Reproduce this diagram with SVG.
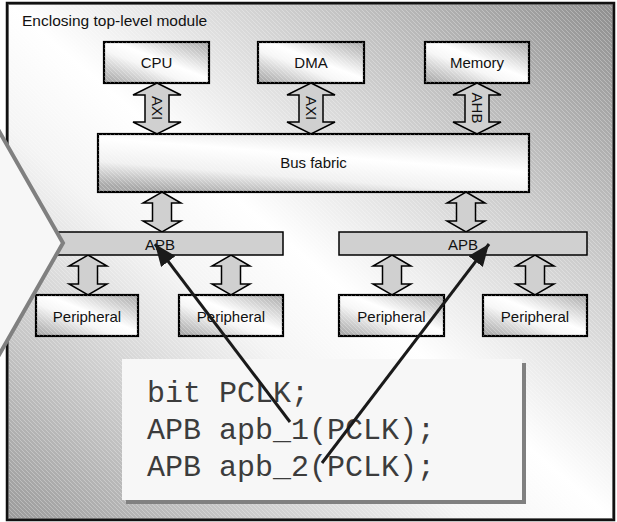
<svg xmlns="http://www.w3.org/2000/svg" width="617" height="522" viewBox="0 0 617 522">
  <defs>
    <linearGradient id="frameGrad" x1="1" y1="0" x2="0" y2="1">
      <stop offset="0" stop-color="#8e8e8e"/>
      <stop offset="0.5" stop-color="#ffffff"/>
      <stop offset="0.62" stop-color="#f4f4f4"/>
      <stop offset="1" stop-color="#9a9a9a"/>
    </linearGradient>
    <linearGradient id="boxGrad" x1="1" y1="0" x2="0" y2="1">
      <stop offset="0" stop-color="#a8a8a8"/>
      <stop offset="0.45" stop-color="#ffffff"/>
      <stop offset="0.6" stop-color="#f6f6f6"/>
      <stop offset="1" stop-color="#a0a0a0"/>
    </linearGradient>
    <linearGradient id="busGrad" x1="0.8" y1="0" x2="0.2" y2="1">
      <stop offset="0" stop-color="#d8d8d8"/>
      <stop offset="0.4" stop-color="#ffffff"/>
      <stop offset="0.7" stop-color="#f0f0f0"/>
      <stop offset="1" stop-color="#a8a8a8"/>
    </linearGradient>
    <pattern id="hatch" patternUnits="userSpaceOnUse" width="4" height="4">
      <path d="M-1,-1 L5,5 M3,-1 L5,1 M-1,3 L1,5" stroke="#ffffff" stroke-width="0.8" stroke-opacity="0.35"/>
    </pattern>
    <path id="dblL" d="M0,0 L24,12 L12,12 L12,39 L24,39 L0,51 L-24,39 L-12,39 L-12,12 L-24,12 Z"/>
    <path id="dblS" d="M0,0 L19,11 L9.5,11 L9.5,29 L19,29 L0,40 L-19,29 L-9.5,29 L-9.5,11 L-19,11 Z"/>
    <marker id="ah" markerUnits="userSpaceOnUse" markerWidth="24" markerHeight="20" refX="22" refY="9" orient="auto">
      <path d="M0,0 L22,9 L0,18 Z" fill="#1a1a1a"/>
    </marker>
    <style>
      .box { fill: url(#boxGrad); stroke: #000; stroke-width: 2.2; }
      .hat { fill: url(#hatch); stroke: none; }
      .bar { fill: #d0d0d0; stroke: #000; stroke-width: 1.5; }
      .dbl { fill: #d0d0d0; stroke: #000; stroke-width: 1.5; stroke-linejoin: miter; }
      .lbl { font-family: "Liberation Sans", Arial, sans-serif; font-size: 15px; fill: #111; text-anchor: middle; }
      .code { font-family: "Liberation Mono", "Courier New", monospace; font-size: 30px; fill: #3c3c3c; }
      .ptr { stroke: #1a1a1a; stroke-width: 3; fill: none; marker-end: url(#ah); }
    </style>
  </defs>

  <g id="frame">
    <rect x="7" y="3" width="607" height="517" fill="url(#frameGrad)"/>
    <rect x="7" y="3" width="607" height="517" class="hat"/>
    <rect x="8.5" y="4.5" width="604" height="514" fill="none" stroke="#888" stroke-width="1"/>
    <rect x="7" y="3" width="607" height="517" fill="none" stroke="#111" stroke-width="2.5"/>
    <text x="22" y="26" font-family="Liberation Sans, Arial, sans-serif" font-size="15.5" fill="#111">Enclosing top-level module</text>
  </g>

  <g id="cpu">
    <rect x="104" y="42" width="105" height="41" class="box"/>
    <rect x="104" y="42" width="105" height="41" class="hat"/>
    <text x="156.5" y="68" class="lbl">CPU</text>
  </g>
  <g id="dma">
    <rect x="258" y="42" width="106" height="41" class="box"/>
    <rect x="258" y="42" width="106" height="41" class="hat"/>
    <text x="311" y="68" class="lbl">DMA</text>
  </g>
  <g id="memory">
    <rect x="425" y="42" width="104" height="41" class="box"/>
    <rect x="425" y="42" width="104" height="41" class="hat"/>
    <text x="477" y="68" class="lbl">Memory</text>
  </g>

  <g id="connectors">
    <use href="#dblL" x="157" y="83" class="dbl"/>
    <use href="#dblL" x="311" y="83" class="dbl"/>
    <use href="#dblL" x="477" y="83" class="dbl"/>
    <text class="lbl" transform="translate(151.5,108) rotate(90)">AXI</text>
    <text class="lbl" transform="translate(305.5,108) rotate(90)">AXI</text>
    <text class="lbl" transform="translate(471.5,108) rotate(90)">AHB</text>
    <use href="#dblS" x="162" y="192" class="dbl"/>
    <use href="#dblS" x="466" y="192" class="dbl"/>
    <use href="#dblS" x="88" y="255" class="dbl"/>
    <use href="#dblS" x="231" y="255" class="dbl"/>
    <use href="#dblS" x="392" y="255" class="dbl"/>
    <use href="#dblS" x="535" y="255" class="dbl"/>
  </g>

  <g id="bus-fabric">
    <rect x="98" y="134" width="431" height="58" fill="url(#busGrad)" stroke="#000" stroke-width="2.2"/>
    <rect x="98" y="134" width="431" height="58" class="hat"/>
    <text x="313.5" y="168" class="lbl">Bus fabric</text>
  </g>

  <g id="apb-1">
    <rect x="40" y="232" width="243" height="23" class="bar"/>
    <text x="160" y="250" class="lbl">APB</text>
  </g>
  <g id="apb-2">
    <rect x="339" y="232" width="248" height="23" class="bar"/>
    <text x="463" y="250" class="lbl">APB</text>
  </g>

  <g id="peripheral-1">
    <rect x="36" y="295" width="102" height="41" class="box"/>
    <rect x="36" y="295" width="102" height="41" class="hat"/>
    <text x="87" y="322" class="lbl">Peripheral</text>
  </g>
  <g id="peripheral-2">
    <rect x="179" y="295" width="104" height="41" class="box"/>
    <rect x="179" y="295" width="104" height="41" class="hat"/>
    <text x="231" y="322" class="lbl">Peripheral</text>
  </g>
  <g id="peripheral-3">
    <rect x="339" y="295" width="105" height="41" class="box"/>
    <rect x="339" y="295" width="105" height="41" class="hat"/>
    <text x="391.5" y="322" class="lbl">Peripheral</text>
  </g>
  <g id="peripheral-4">
    <rect x="483" y="295" width="104" height="41" class="box"/>
    <rect x="483" y="295" width="104" height="41" class="hat"/>
    <text x="535" y="322" class="lbl">Peripheral</text>
  </g>

  <g id="callout">
    <polygon points="-25,89 63,243 -25,397" fill="#f7f7f7" stroke="#808080" stroke-width="4" stroke-linejoin="miter"/>
  </g>

  <g id="code">
    <rect x="126" y="363" width="400" height="141" fill="#808080"/>
    <rect x="122" y="359" width="400" height="141" fill="#f7f7f7"/>
    <text x="147" y="402" class="code" xml:space="preserve">bit PCLK;</text>
    <text x="147" y="439" class="code" xml:space="preserve">APB apb_1(PCLK);</text>
    <text x="147" y="476" class="code" xml:space="preserve">APB apb_2(PCLK);</text>
  </g>

  <g id="pointers">
    <line x1="290" y1="422" x2="155" y2="244" class="ptr"/>
    <line x1="322" y1="463" x2="489" y2="244" class="ptr"/>
  </g>
</svg>
